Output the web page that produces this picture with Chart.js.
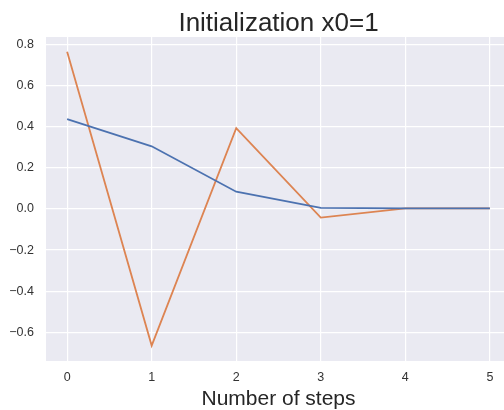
<!DOCTYPE html>
<html lang="en">
<head>
  <meta charset="UTF-8">
  <title>Initialization x0=1</title>
  <script src="https://cdn.jsdelivr.net/npm/chart.js"></script>
  <style>
    body { margin: 0; background: #fff; overflow: hidden; }
    /* the axes run slightly past the right window edge, as in the original */
    #chart-container { width: 512px; height: 410px; }
    #chart { display: block; }
  </style>
</head>
<body>
  <div id="chart-container">
    <canvas id="chart" width="512" height="410"></canvas>
  </div>

  <script>
    const chartTitle = 'Initialization x0=1';
    const xTitle = 'Number of steps';
    const steps = [0, 1, 2, 3, 4, 5];
    const seriesA = [0.437, 0.305, 0.084, 0.005, 0.003, 0.003];
    const seriesB = [0.765, -0.665, 0.393, -0.042, 0.003, 0.003];
    const xTicks = [0, 1, 2, 3, 4, 5];
    const yTicks = [-0.6, -0.4, -0.2, 0.0, 0.2, 0.4, 0.6, 0.8];

    const FONT = "'Liberation Sans', Arial, sans-serif";
    const TEXT = '#262626';

    // grey plot background + title centred on the axes (like matplotlib)
    const axesDeco = {
      id: 'axesDeco',
      beforeDraw(chart) {
        const { ctx, chartArea: a } = chart;
        ctx.save();
        ctx.fillStyle = '#EAEAF2';
        ctx.fillRect(a.left, a.top, a.right - a.left, a.bottom - a.top);
        ctx.restore();
      },
      afterDraw(chart) {
        const { ctx, chartArea: a } = chart;
        ctx.save();
        ctx.fillStyle = TEXT;
        ctx.font = '26px ' + FONT;
        ctx.textAlign = 'center';
        ctx.textBaseline = 'alphabetic';
        ctx.fillText(chartTitle, (a.left + a.right) / 2, 31);
        ctx.restore();
      }
    };

    const minus = v => {
      const s = Math.abs(v) < 1e-9 ? '0.0' : v.toFixed(1);
      return s.replace('-', '\u2212');
    };

    new Chart(document.getElementById('chart'), {
      type: 'line',
      data: {
        datasets: [
          {
            label: 'a',
            data: steps.map((s, i) => ({ x: s, y: seriesA[i] })),
            borderColor: '#4C72B0', borderWidth: 1.8,
            pointRadius: 0, tension: 0, fill: false
          },
          {
            label: 'b',
            data: steps.map((s, i) => ({ x: s, y: seriesB[i] })),
            borderColor: '#DD8452', borderWidth: 1.8,
            pointRadius: 0, tension: 0, fill: false
          }
        ]
      },
      options: {
        responsive: false,
        animation: false,
        layout: { padding: { top: 37, right: 1, left: 0, bottom: 0 } },
        plugins: {
          legend: { display: false },
          tooltip: { enabled: false },
          title: { display: false }
        },
        scales: {
          x: {
            type: 'linear',
            min: -0.25,
            max: 5.25,
            afterBuildTicks: s => { s.ticks = xTicks.map(v => ({ value: v })); },
            afterFit: s => { s.height = 49; },
            grid: { color: '#ffffff', lineWidth: 1.2, drawTicks: false },
            border: { display: false },
            ticks: {
              padding: 9.5,
              color: '#333',
              font: { family: FONT, size: 12.5 },
              callback: v => String(v)
            },
            title: {
              display: true,
              text: xTitle,
              color: TEXT,
              font: { family: FONT, size: 21, lineHeight: 1 },
              padding: { top: 0, bottom: 0 }
            }
          },
          y: {
            type: 'linear',
            min: -0.74,
            max: 0.837,
            afterBuildTicks: s => { s.ticks = yTicks.map(v => ({ value: v })); },
            afterFit: s => { s.width = 46; },
            grid: { color: '#ffffff', lineWidth: 1.2, drawTicks: false },
            border: { display: false },
            ticks: {
              padding: 12,
              color: '#333',
              font: { family: FONT, size: 12.5 },
              callback: v => minus(v)
            }
          }
        }
      },
      plugins: [axesDeco]
    });
  </script>
</body>
</html>
